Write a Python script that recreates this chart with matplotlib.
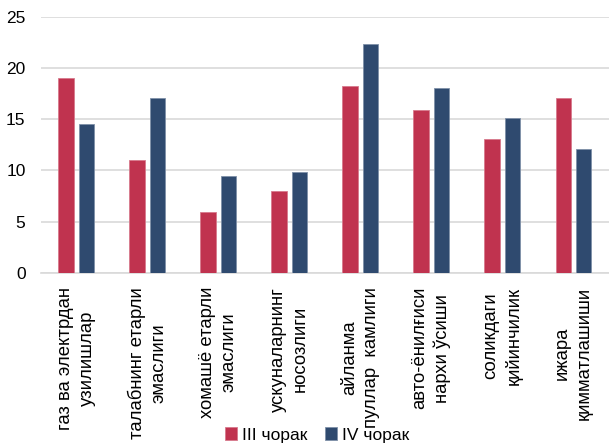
import matplotlib
matplotlib.use("Agg")
import matplotlib.pyplot as plt
import numpy as np

categories = [
    "газ ва электрдан\nузилишлар",
    "талабнинг етарли\nэмаслиги",
    "хомашё етарли\nэмаслиги",
    "ускуналарнинг\nносозлиги",
    "айланма\nпуллар  камлиги",
    "авто-ёнилғиси\nнархи ўсиши",
    "соликдаги\nқийинчилик",
    "ижара\nқимматлашиши",
]
q3 = [19.0, 11.0, 6.0, 8.0, 18.2, 15.9, 13.1, 17.1]
q4 = [14.5, 17.1, 9.5, 9.9, 22.3, 18.0, 15.1, 12.1]
series_labels = ["III чорак", "IV чорак"]
yticks = [0, 5, 10, 15, 20, 25]

plt.rcParams['font.family'] = ['Liberation Sans', 'DejaVu Sans']

fig = plt.figure(figsize=(6.09, 4.43), dpi=100)
ax = fig.add_axes([0.067, 0.3837, 0.933, 0.5786])

x = np.arange(len(categories))
w = 0.22
off = 0.143
red = "#C0334F"
blue = "#2F4A6F"
ax.bar(x - off, q3, w, color=red, edgecolor="#D77A8C", linewidth=0.6, label=series_labels[0], zorder=3)
ax.bar(x + off, q4, w, color=blue, edgecolor="#7F90A8", linewidth=0.6, label=series_labels[1], zorder=3)

ax.set_xlim(-0.5, len(categories) - 0.5)
ax.set_ylim(0, 25)
ax.set_yticks(yticks)
ax.set_yticklabels([str(t) for t in yticks], fontsize=12.5)
ax.yaxis.grid(True, color="#D9D9D9", linewidth=1.2, zorder=0)
ax.set_axisbelow(True)
for s in ["top", "right", "left"]:
    ax.spines[s].set_visible(False)
ax.spines["bottom"].set_color("#D9D9D9")
ax.spines["bottom"].set_linewidth(1.2)
ax.tick_params(axis="y", length=0, pad=11)
ax.tick_params(axis="x", length=0, pad=10)
ax.set_xticks(x)
ax.set_xticklabels(categories, rotation=90, fontsize=13.3, linespacing=1.38,
                   ha="center", va="top", multialignment="center")

fig.legend(loc="center", bbox_to_anchor=(0.521, 0.018), ncol=2, frameon=False,
           fontsize=12.5, handlelength=0.7, handleheight=0.7, handletextpad=0.3,
           columnspacing=1.0, borderaxespad=0)

fig.savefig("out.png", dpi=100)
